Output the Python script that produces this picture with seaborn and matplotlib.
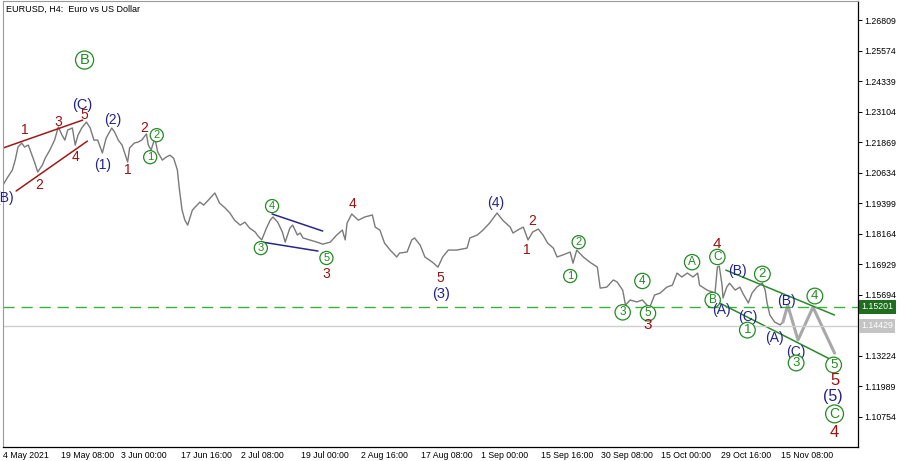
import matplotlib
matplotlib.use("Agg")
import matplotlib.pyplot as plt
import matplotlib.transforms as mtransforms
import pandas as pd
import seaborn as sns

# EURUSD H4 closes (bar index, price)
bars = [0, 5, 10, 13, 16, 20, 23, 27, 31, 34, 37, 42, 45, 50, 55, 59, 63, 66, 69, 74,
        77, 80, 84, 89, 93, 97, 101, 106, 110, 116, 119, 123, 127, 133, 135, 140, 144, 148, 153, 155,
        158, 162, 165, 170, 174, 178, 182, 186, 188, 191, 194, 197, 202, 207, 210, 214, 219, 226, 231, 237,
        242, 247, 253, 258, 263, 269, 272, 276, 281, 285, 288, 293, 298, 301, 306, 309, 314, 317, 320, 327,
        335, 341, 349, 356, 362, 365, 367, 372, 379, 386, 394, 397, 402, 407, 413, 420, 423, 431, 436, 439,
        445, 450, 458, 464, 469, 475, 484, 495, 498, 506, 512, 519, 527, 533, 541, 544, 549, 555, 560, 565,
        571, 576, 581, 587, 591, 597, 605, 608, 612, 619, 626, 634, 637, 644, 651, 655, 661, 664, 669, 676,
        682, 687, 690, 695, 701, 708, 714, 719, 724, 730, 736, 741, 743, 751, 757, 759, 762, 764, 767, 768,
        772, 775, 781, 786, 789, 795, 799, 804, 810, 813, 815, 818, 823, 829, 832]
close = [1.2013, 1.2045, 1.2074, 1.2114, 1.2167, 1.2183, 1.2167, 1.2175, 1.2134, 1.2102,
         1.2066, 1.2094, 1.2122, 1.2155, 1.2195, 1.2248, 1.2215, 1.2195, 1.2236, 1.2244,
         1.2175, 1.2215, 1.2244, 1.2268, 1.2244, 1.2195, 1.2195, 1.2143, 1.2203, 1.2244,
         1.2228, 1.2195, 1.2175, 1.2106, 1.2163, 1.2183, 1.2187, 1.2195, 1.2220, 1.2175,
         1.2155, 1.2203, 1.2147, 1.2114, 1.2126, 1.2134, 1.2122, 1.2074, 1.2001, 1.1912,
         1.1871, 1.1851, 1.1912, 1.1932, 1.1944, 1.1932, 1.1952, 1.1981, 1.1940, 1.1920,
         1.1900, 1.1871, 1.1851, 1.1863, 1.1839, 1.1823, 1.1807, 1.1791, 1.1839, 1.1871,
         1.1884, 1.1863, 1.1823, 1.1782, 1.1839, 1.1851, 1.1811, 1.1819, 1.1799, 1.1791,
         1.1782, 1.1774, 1.1782, 1.1811, 1.1831, 1.1791, 1.1859, 1.1896, 1.1871, 1.1884,
         1.1892, 1.1843, 1.1831, 1.1778, 1.1750, 1.1722, 1.1738, 1.1742, 1.1791, 1.1799,
         1.1770, 1.1722, 1.1701, 1.1681, 1.1722, 1.1750, 1.1750, 1.1758, 1.1799, 1.1811,
         1.1831, 1.1859, 1.1900, 1.1871, 1.1843, 1.1819, 1.1831, 1.1843, 1.1791, 1.1823,
         1.1835, 1.1811, 1.1778, 1.1758, 1.1722, 1.1730, 1.1742, 1.1697, 1.1750, 1.1722,
         1.1701, 1.1681, 1.1596, 1.1600, 1.1629, 1.1621, 1.1588, 1.1527, 1.1548, 1.1540,
         1.1548, 1.1527, 1.1519, 1.1568, 1.1576, 1.1600, 1.1608, 1.1657, 1.1641, 1.1657,
         1.1641, 1.1657, 1.1608, 1.1588, 1.1580, 1.1556, 1.1681, 1.1685, 1.1608, 1.1556,
         1.1600, 1.1616, 1.1588, 1.1600, 1.1576, 1.1536, 1.1576, 1.1600, 1.1616, 1.1588,
         1.1536, 1.1487, 1.1459, 1.1447, 1.1459]

# forecast zigzag
proj_bars = [832, 837, 848, 864, 887]
proj_price = [1.1459, 1.1527, 1.1386, 1.1519, 1.1333]

# trend lines: (bar0, bar1, price0, price1, colour)
trend_lines = [
    (-3, 85, 1.2159, 1.2276, "#a01818"),
    (14, 90, 1.1989, 1.2191, "#a01818"),
    (287, 341, 1.1896, 1.1827, "#26268c"),
    (277, 336, 1.1782, 1.1746, "#26268c"),
    (771, 887, 1.1669, 1.1487, "#2a8a2a"),
    (756, 882, 1.1552, 1.1309, "#2a8a2a"),
]

bid_level = 1.15201
last_level = 1.14429

tick_bars = [0, 62, 126, 190, 254, 318, 382, 446, 510, 574, 638, 702, 766, 830]
tick_dates = ["4 May 2021", "19 May 08:00", "3 Jun 00:00", "17 Jun 16:00", "2 Jul 08:00",
              "19 Jul 00:00", "2 Aug 16:00", "17 Aug 08:00", "1 Sep 00:00", "15 Sep 16:00",
              "30 Sep 08:00", "15 Oct 00:00", "29 Oct 16:00", "15 Nov 08:00"]
price_ticks = [1.26809, 1.25574, 1.24339, 1.23104, 1.21869, 1.20634, 1.19399, 1.18164,
               1.16929, 1.15694, 1.13224, 1.11989, 1.10754]

RED, NAVY, GREEN = "#9c1010", "#23238e", "#228b22"
# wave labels: (text, bar, price, colour, circled, fontsize)
waves = [
    ("(B)", 2, 1.1960, NAVY, False, 10),
    ("B", 87, 1.2519, GREEN, True, 10.5),
    ("(C)", 85, 1.2337, NAVY, False, 10.5),
    ("5", 87, 1.2296, RED, False, 10),
    ("3", 59, 1.2268, RED, False, 10),
    ("1", 23, 1.2236, RED, False, 10),
    ("4", 77, 1.2126, RED, False, 10),
    ("2", 39, 1.2013, RED, False, 10),
    ("(1)", 106, 1.2094, NAVY, False, 10),
    ("(2)", 117, 1.2276, NAVY, False, 10),
    ("1", 133, 1.2074, RED, False, 10),
    ("2", 151, 1.2244, RED, False, 10),
    ("2", 164, 1.2215, GREEN, True, 8),
    ("1", 157, 1.2126, GREEN, True, 8),
    ("4", 287, 1.1928, GREEN, True, 8),
    ("3", 275, 1.1758, GREEN, True, 8),
    ("5", 345, 1.1718, GREEN, True, 8),
    ("3", 345, 1.1653, RED, False, 10),
    ("4", 373, 1.1936, RED, False, 10),
    ("5", 466, 1.1637, RED, False, 10),
    ("(3)", 467, 1.1572, NAVY, False, 10.5),
    ("(4)", 526, 1.1940, NAVY, False, 10),
    ("2", 565, 1.1867, RED, False, 10),
    ("1", 559, 1.1750, RED, False, 10),
    ("2", 614, 1.1782, GREEN, True, 8),
    ("1", 605, 1.1645, GREEN, True, 8),
    ("4", 682, 1.1625, GREEN, True, 8.5),
    ("3", 661, 1.1498, GREEN, True, 8.5),
    ("5", 688, 1.1494, GREEN, True, 8.5),
    ("3", 688, 1.1447, RED, False, 11),
    ("A", 735, 1.1701, GREEN, True, 8.5),
    ("C", 762, 1.1722, GREEN, True, 8.5),
    ("4", 762, 1.1774, RED, False, 11),
    ("B", 757, 1.1548, GREEN, True, 8.5),
    ("(A)", 766, 1.1507, NAVY, False, 10),
    ("(B)", 783, 1.1665, NAVY, False, 10),
    ("2", 810, 1.1653, GREEN, True, 9.5),
    ("(C)", 795, 1.1479, NAVY, False, 10),
    ("1", 794, 1.1426, GREEN, True, 9.5),
    ("(A)", 823, 1.1394, NAVY, False, 10),
    ("(B)", 836, 1.1544, NAVY, False, 10),
    ("(C)", 846, 1.1337, NAVY, False, 10),
    ("3", 846, 1.1293, GREEN, True, 9.5),
    ("4", 866, 1.1564, GREEN, True, 9.5),
    ("5", 886, 1.1285, GREEN, True, 9.5),
    ("5", 887, 1.1224, RED, False, 12),
    ("(5)", 885, 1.1159, NAVY, False, 11.5),
    ("C", 887, 1.1087, GREEN, True, 10),
    ("4", 887, 1.1013, RED, False, 12),
]

sns.set_style("white")
plt.rcParams["font.family"] = ["Liberation Sans", "DejaVu Sans"]

fig = plt.figure(figsize=(9, 4.61), dpi=100)
ax = fig.add_axes([3 / 900, 14 / 461, 855 / 900, 446 / 461])

prices = pd.DataFrame({"bar": bars, "close": close})
forecast = pd.DataFrame({"bar": proj_bars, "close": proj_price})
sns.lineplot(data=prices, x="bar", y="close", color="#7a7a7a", lw=1.0, ax=ax)
sns.lineplot(data=forecast, x="bar", y="close", color="#a8a8a8", lw=2.2, ax=ax)

for b0, b1, p0, p1, c in trend_lines:
    ax.plot([b0, b1], [p0, p1], color=c, lw=1.1)

ax.axhline(bid_level, color="#3fae3f", lw=1.0, dashes=(8, 5))
ax.axhline(last_level, color="#cfcfcf", lw=1.0)

for txt, b, p, c, circled, fs in waves:
    if circled:
        ax.text(b, p, txt, color=c, fontsize=fs, ha="center", va="center",
                bbox=dict(boxstyle="circle,pad=0.14", fc="white", ec=c, lw=0.9))
    else:
        ax.text(b, p, txt, color=c, fontsize=fs, ha="center", va="center")

ax.set_xlim(0, 912)
ax.set_ylim(1.0953, 1.2758)
ax.set_xlabel("")
ax.set_ylabel("")

ax.yaxis.tick_right()
ax.set_yticks(price_ticks, [f"{v:.5f}" for v in price_ticks])
ax.set_xticks(tick_bars, tick_dates, ha="left")
ax.tick_params(axis="both", length=3, width=0.7, labelsize=6.3, colors="black", pad=1.5)
ax.tick_params(axis="x", direction="out", length=2.5, pad=0.5)

for side in ["top", "left"]:
    ax.spines[side].set_color("#9a9a9a")
    ax.spines[side].set_linewidth(0.8)
for side in ["right", "bottom"]:
    ax.spines[side].set_color("black")
    ax.spines[side].set_linewidth(0.9)

trans = mtransforms.blended_transform_factory(ax.transAxes, ax.transData)
ax.text(1.004, bid_level, f"{bid_level:.5f}", transform=trans, fontsize=6.3, color="white",
        ha="left", va="center", bbox=dict(boxstyle="square,pad=0.25", fc="#1e6e1e", ec="none"))
ax.text(1.004, last_level, f"{last_level:.5f}", transform=trans, fontsize=6.3, color="white",
        ha="left", va="center", bbox=dict(boxstyle="square,pad=0.25", fc="#c4c4c4", ec="none"))

ax.text(0.003, 0.992, "EURUSD, H4:  Euro vs US Dollar", transform=ax.transAxes,
        fontsize=6.5, color="black", ha="left", va="top")

fig.savefig("out.png", dpi=100)
